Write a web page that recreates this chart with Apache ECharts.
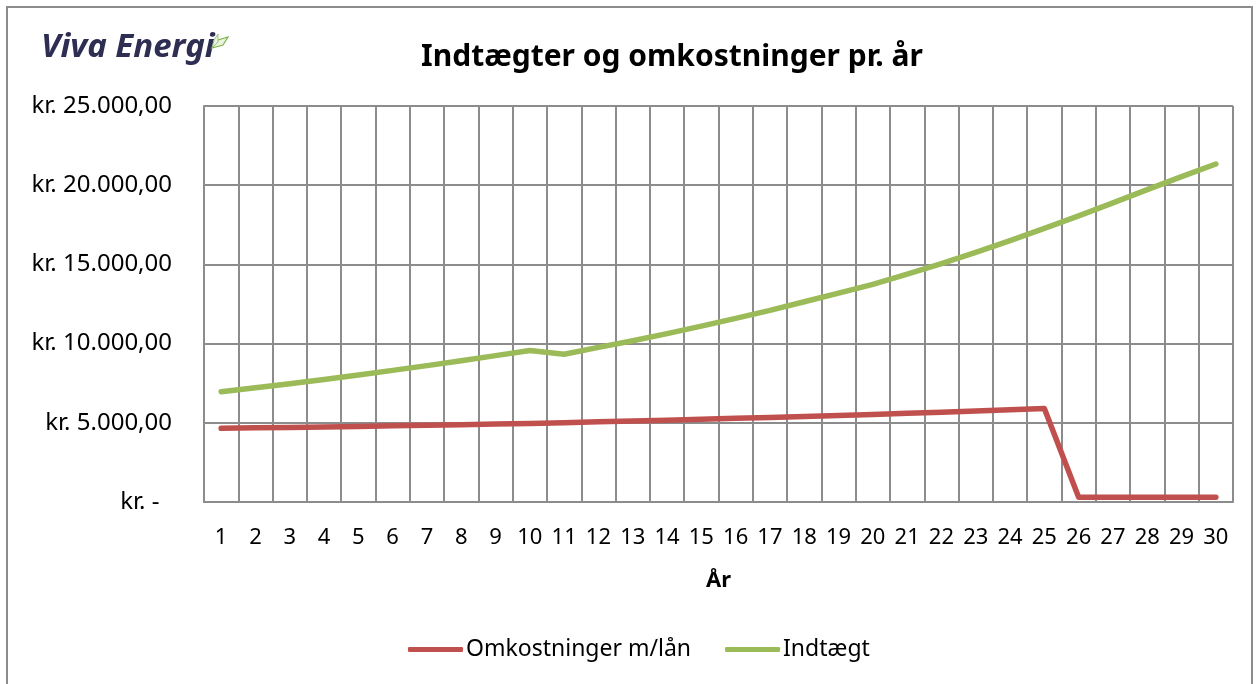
<!DOCTYPE html>
<html>
<head>
<meta charset="utf-8">
<title>Indtægter og omkostninger pr. år</title>
<script src="https://cdn.jsdelivr.net/npm/echarts@6/dist/echarts.min.js"></script>
<style>
  html, body { margin: 0; padding: 0; background: #fff; }
  #chart { width: 1259px; height: 684px; }
</style>
</head>
<body>
<div id="chart"></div>
<script>
// år 1..30
var years = ['1', '2', '3', '4', '5', '6', '7', '8', '9', '10',
  '11', '12', '13', '14', '15', '16', '17', '18', '19', '20',
  '21', '22', '23', '24', '25', '26', '27', '28', '29', '30']

// Omkostninger m/lån (kr.)
var omkostninger = [4650, 4680, 4710, 4740, 4770, 4810, 4840, 4880, 4920, 4960,
  5010, 5060, 5110, 5160, 5220, 5280, 5340, 5400, 5460, 5530,
  5600, 5670, 5750, 5830, 5910, 300, 300, 300, 300, 300]

// Indtægt (kr.)
var indtaegt = [6960, 7210, 7470, 7740, 8020, 8310, 8610, 8920, 9240, 9570,
  9330, 9760, 10180, 10630, 11100, 11590, 12100, 12640, 13190, 13740,
  14380, 15050, 15760, 16500, 17270, 18060, 18880, 19720, 20540, 21340]

var seriesNames = ['Omkostninger m/lån', 'Indtægt']
var seriesColors = ['#c0504d', '#9bbb59']

var font = '"Noto Sans", "Open Sans", sans-serif'

function kr (v) {
  if (v === 0) return 'kr. -  '
  return 'kr. ' + String(v).replace(/\B(?=(\d{3})+(?!\d))/g, '.') + ',00'
}

var dom = echarts.init(document.getElementById('chart'), null, { renderer: 'canvas' })

var option = {
  backgroundColor: '#fff',
  animation: false,
  textStyle: { fontFamily: font },
  title: {
    text: 'Indtægter og omkostninger pr. år',
    left: 667,
    top: 37,
    textAlign: 'center',
    textStyle: { fontFamily: font, fontSize: 30, fontWeight: 'bold', color: '#000' }
  },
  graphic: [
    {
      type: 'rect',
      shape: { x: 7, y: 7, width: 1245, height: 700 },
      style: { fill: null, stroke: '#8c8c8c', lineWidth: 2 },
      silent: true
    },
    {
      type: 'text',
      left: 41,
      top: 31,
      style: {
        text: 'Viva Energi',
        fontFamily: font,
        fontSize: 33,
        fontStyle: 'italic',
        fontWeight: 'bold',
        fill: '#2e2d52'
      }
    },
    {
      type: 'polygon',
      shape: { points: [[212, 48], [218, 40], [228, 37], [223, 45]] },
      style: { fill: '#e9f3df', stroke: '#7fb24a', lineWidth: 1.2 }
    },
    {
      type: 'polygon',
      shape: { points: [[212, 48], [214, 40], [218, 34], [218, 42]] },
      style: { fill: '#e9f3df', stroke: '#9bbf7a', lineWidth: 1 }
    }
  ],
  legend: {
    data: seriesNames,
    bottom: 18,
    left: 403,
    icon: 'roundRect',
    itemWidth: 55,
    itemHeight: 5,
    itemGap: 34,
    textStyle: { fontFamily: font, fontSize: 23, color: '#000', padding: [0, 0, 0, -2] }
  },
  grid: {
    left: 204,
    right: 26,
    top: 106,
    bottom: 182,
    containLabel: false
  },
  xAxis: {
    type: 'category',
    data: years,
    boundaryGap: true,
    name: 'År',
    nameLocation: 'center',
    nameGap: 68,
    nameTextStyle: { fontFamily: font, fontSize: 22, fontWeight: 'bold', color: '#000' },
    axisLine: { show: true, lineStyle: { color: '#8c8c8c', width: 2 } },
    axisTick: { show: false },
    axisLabel: { interval: 0, margin: 25, fontSize: 22, color: '#000', fontFamily: font },
    splitLine: { show: true, interval: 0, lineStyle: { color: '#8c8c8c', width: 2 } }
  },
  yAxis: {
    type: 'value',
    min: 0,
    max: 25000,
    interval: 5000,
    axisLine: { show: true, lineStyle: { color: '#8c8c8c', width: 2 } },
    axisTick: { show: false },
    axisLabel: { margin: 32, fontSize: 24, color: '#000', fontFamily: font, formatter: kr },
    splitLine: { show: true, lineStyle: { color: '#8c8c8c', width: 2 } }
  },
  series: [
    {
      name: seriesNames[0],
      type: 'line',
      data: omkostninger,
      symbol: 'none',
      color: seriesColors[0],
      lineStyle: { width: 5.5, color: seriesColors[0], cap: 'round', join: 'round' }
    },
    {
      name: seriesNames[1],
      type: 'line',
      data: indtaegt,
      symbol: 'none',
      color: seriesColors[1],
      lineStyle: { width: 5.5, color: seriesColors[1], cap: 'round', join: 'round' }
    }
  ]
}

dom.setOption(option)
</script>
</body>
</html>
